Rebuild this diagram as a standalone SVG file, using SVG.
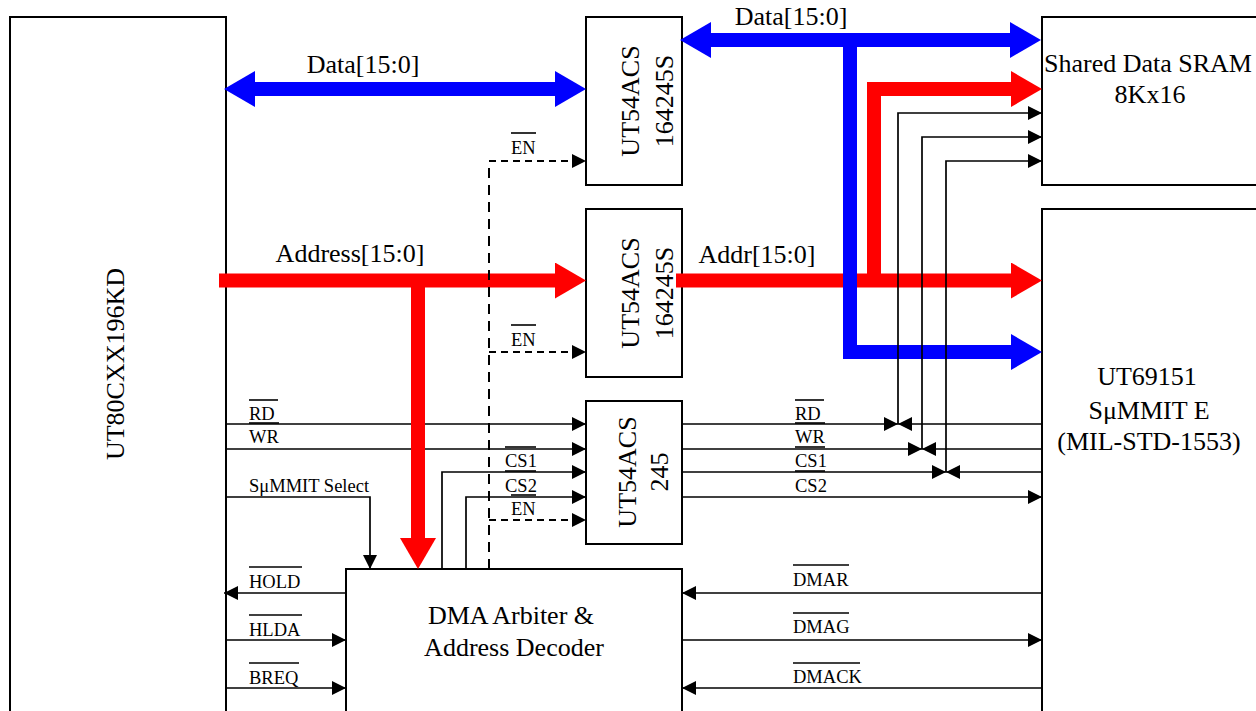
<svg xmlns="http://www.w3.org/2000/svg" width="1256" height="711" viewBox="0 0 1256 711">
<style>
.box{fill:#fff;stroke:#000;stroke-width:2}
.w{fill:none;stroke:#000;stroke-width:1.7}
.dv{stroke-dasharray:10 7;stroke-width:2}
.dh{stroke-dasharray:7 5;stroke-width:2}
.bb{fill:none;stroke:#00f;stroke-width:14;stroke-linejoin:miter}
.rb{fill:none;stroke:#f00;stroke-width:14;stroke-linejoin:miter}
.t{font-family:"Liberation Serif","Times New Roman",serif;font-size:26px;fill:#000}
.s{font-size:18.5px}
.ob{stroke:#000;stroke-width:1.6}
</style>
<defs>
<marker id="ah" markerUnits="userSpaceOnUse" markerWidth="14" markerHeight="14" refX="14" refY="7" orient="auto-start-reverse" viewBox="0 0 14 14"><path d="M0,0 L14,7 L0,14 z" fill="#000"/></marker>
<marker id="mb" markerUnits="userSpaceOnUse" markerWidth="31" markerHeight="36" refX="0" refY="18" orient="auto-start-reverse" viewBox="0 0 31 36"><path d="M0,0 L31,18 L0,36 z" fill="#00f"/></marker>
<marker id="mr" markerUnits="userSpaceOnUse" markerWidth="31" markerHeight="36" refX="0" refY="18" orient="auto-start-reverse" viewBox="0 0 31 36"><path d="M0,0 L31,18 L0,36 z" fill="#f00"/></marker>
</defs>
<rect width="1256" height="711" fill="#fff"/>
<g id="cpu">
<rect class="box" x="10" y="17" width="216" height="720"/>
<text class="t" font-size="28" text-anchor="middle" transform="translate(124,364) rotate(-90)">UT80CXX196KD</text>
</g>
<g id="buf-data">
<rect class="box" x="586" y="17" width="96" height="168"/>
<text class="t" text-anchor="middle" transform="translate(639,101) rotate(-90)">UT54ACS</text>
<text class="t" text-anchor="middle" transform="translate(673,101) rotate(-90)">164245S</text>
</g>
<g id="buf-addr">
<rect class="box" x="586" y="209" width="96" height="168"/>
<text class="t" text-anchor="middle" transform="translate(639,293) rotate(-90)">UT54ACS</text>
<text class="t" text-anchor="middle" transform="translate(673,293) rotate(-90)">164245S</text>
</g>
<g id="buf-ctrl">
<rect class="box" x="586" y="401" width="96" height="143"/>
<text class="t" text-anchor="middle" transform="translate(636,472) rotate(-90)">UT54ACS</text>
<text class="t" text-anchor="middle" transform="translate(668,472) rotate(-90)">245</text>
</g>
<g id="sram">
<rect class="box" x="1042" y="17" width="230" height="168"/>
<text class="t" x="1148" y="72" text-anchor="middle">Shared Data SRAM</text>
<text class="t" x="1150" y="103" text-anchor="middle">8Kx16</text>
</g>
<g id="summit">
<rect class="box" x="1042" y="209" width="230" height="520"/>
<text class="t" font-size="25" x="1147" y="385" text-anchor="middle">UT69151</text>
<text class="t" font-size="25" x="1149" y="419" text-anchor="middle">SμMMIT E</text>
<text class="t" font-size="25" x="1149" y="450" text-anchor="middle">(MIL-STD-1553)</text>
</g>
<g id="dma">
<rect class="box" x="346" y="569" width="336" height="160"/>
<text class="t" x="511" y="624" text-anchor="middle">DMA Arbiter &amp;</text>
<text class="t" x="514" y="656" text-anchor="middle">Address Decoder</text>
</g>
<g id="connectors">
<path class="w" d="M226,424 L586,424" marker-end="url(#ah)"/>
<path class="w" d="M226,449 L586,449" marker-end="url(#ah)"/>
<path class="w" d="M442,569 L442,472 L586,472" marker-end="url(#ah)"/>
<path class="w" d="M466,569 L466,497 L586,497" marker-end="url(#ah)"/>
<path class="w" d="M226,497 L370,497 L370,569" marker-end="url(#ah)"/>
<path class="w" d="M346,593 L224,593" marker-end="url(#ah)"/>
<path class="w" d="M226,640 L346,640" marker-end="url(#ah)"/>
<path class="w" d="M226,688 L346,688" marker-end="url(#ah)"/>
<path class="bb" d="M255,89 L555,89" marker-start="url(#mb)" marker-end="url(#mb)"/>
<path class="rb" d="M219,280.5 L555,280.5" marker-end="url(#mr)"/>
<path class="rb" d="M418,280.5 L418,538" marker-end="url(#mr)"/>
<path class="rb" d="M676,280.5 L1011,280.5" marker-end="url(#mr)"/>
<path class="rb" d="M874,280.5 L874,89 L1011,89" marker-end="url(#mr)"/>
<path class="bb" d="M711,40 L1010,40" marker-start="url(#mb)" marker-end="url(#mb)"/>
<path class="bb" d="M850,40 L850,352 L1011,352" marker-end="url(#mb)"/>
<path class="w dv" d="M489,569 L489,161"/>
<path class="w dh" d="M489,161 L586,161" marker-end="url(#ah)"/>
<path class="w dh" d="M489,352 L586,352" marker-end="url(#ah)"/>
<path class="w dh" d="M489,520 L586,520" marker-end="url(#ah)"/>
<path class="w" d="M682,424 L898,424" marker-end="url(#ah)"/>
<path class="w" d="M1042,424 L898,424" marker-end="url(#ah)"/>
<path class="w" d="M898,424 L898,113 L1042,113" marker-end="url(#ah)"/>
<path class="w" d="M682,449 L922,449" marker-end="url(#ah)"/>
<path class="w" d="M1042,449 L922,449" marker-end="url(#ah)"/>
<path class="w" d="M922,449 L922,137 L1042,137" marker-end="url(#ah)"/>
<path class="w" d="M682,472 L946,472" marker-end="url(#ah)"/>
<path class="w" d="M1042,472 L946,472" marker-end="url(#ah)"/>
<path class="w" d="M946,472 L946,161 L1042,161" marker-end="url(#ah)"/>
<path class="w" d="M682,497 L1042,497" marker-end="url(#ah)"/>
<path class="w" d="M1042,593 L682,593" marker-end="url(#ah)"/>
<path class="w" d="M682,640 L1042,640" marker-end="url(#ah)"/>
<path class="w" d="M1042,688 L682,688" marker-end="url(#ah)"/>
<text class="t" x="363" y="73" text-anchor="middle">Data[15:0]</text>
<text class="t" x="791" y="25" text-anchor="middle">Data[15:0]</text>
<text class="t" x="350" y="262" text-anchor="middle">Address[15:0]</text>
<text class="t" x="757" y="263" text-anchor="middle">Addr[15:0]</text>
<g class="t s">
<text x="249" y="420">RD</text>
<text x="249" y="443">WR</text>
<text x="249" y="492">SμMMIT Select</text>
<text x="505" y="467">CS1</text>
<text x="505" y="492">CS2</text>
<text x="511" y="154">EN</text>
<text x="511" y="346">EN</text>
<text x="511" y="515">EN</text>
<text x="249" y="588">HOLD</text>
<text x="249" y="636">HLDA</text>
<text x="249" y="684">BREQ</text>
<text x="795" y="420">RD</text>
<text x="795" y="443">WR</text>
<text x="795" y="467">CS1</text>
<text x="795" y="492">CS2</text>
<text x="793" y="586">DMAR</text>
<text x="793" y="633">DMAG</text>
<text x="793" y="683">DMACK</text>
</g>
<g class="ob">
<line x1="249" y1="400" x2="278" y2="400"/>
<line x1="249" y1="423" x2="279" y2="423"/>
<line x1="505" y1="447" x2="536" y2="447"/>
<line x1="505" y1="471" x2="536" y2="471"/>
<line x1="511" y1="133" x2="536" y2="133"/>
<line x1="511" y1="325" x2="536" y2="325"/>
<line x1="511" y1="495" x2="536" y2="495"/>
<line x1="249" y1="567" x2="302" y2="567"/>
<line x1="249" y1="615" x2="302" y2="615"/>
<line x1="249" y1="663" x2="299" y2="663"/>
<line x1="795" y1="400" x2="824" y2="400"/>
<line x1="795" y1="423" x2="825" y2="423"/>
<line x1="795" y1="447" x2="825" y2="447"/>
<line x1="795" y1="471" x2="825" y2="471"/>
<line x1="793" y1="565" x2="849" y2="565"/>
<line x1="793" y1="613" x2="849" y2="613"/>
<line x1="793" y1="663" x2="860" y2="663"/>
</g>
</g>
</svg>
